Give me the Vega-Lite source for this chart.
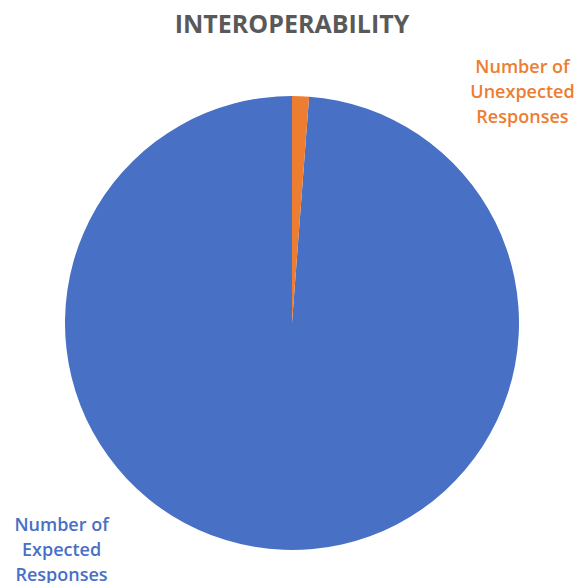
{
  "$schema": "https://vega.github.io/schema/vega-lite/v6.json",
  "autosize": "none",
  "width": 570,
  "height": 454,
  "padding": {"left": 7, "top": 96, "right": 0, "bottom": 33},
  "background": "white",
  "config": {"view": {"stroke": null}},
  "title": {
    "text": "INTEROPERABILITY",
    "font": "Open Sans",
    "fontSize": 25,
    "fontWeight": "bold",
    "color": "#595959",
    "anchor": "middle",
    "frame": "group",
    "baseline": "alphabetic",
    "offset": 1
  },
  "data": {
    "values": [
      {"category": "Number of Expected Responses", "label": "Number of\nExpected\nResponses", "value": 98.8},
      {"category": "Number of Unexpected Responses", "label": "Number of\nUnexpected\nResponses", "value": 1.2}
    ]
  },
  "layer": [
    {
      "mark": {"type": "arc", "stroke": null},
      "encoding": {
        "theta": {"field": "value", "type": "quantitative", "stack": true},
        "order": {"field": "category", "sort": "descending"},
        "color": {
          "field": "category",
          "type": "nominal",
          "scale": {"domain": ["Number of Expected Responses", "Number of Unexpected Responses"], "range": ["#4870C4", "#ED7D31"]},
          "legend": null
        }
      }
    },
    {
      "mark": {"type": "text", "radius": 325, "dy": -26, "font": "Open Sans", "fontSize": 18, "fontWeight": 600, "lineBreak": "\n", "lineHeight": 25, "align": "center", "baseline": "middle"},
      "encoding": {
        "theta": {"field": "value", "type": "quantitative", "stack": true, "scale": {"range": [0.7505, 7.0337]}},
        "order": {"field": "category", "sort": "descending"},
        "text": {"field": "label"},
        "color": {"field": "category", "type": "nominal", "legend": null}
      }
    }
  ],
  "resolve": {"scale": {"theta": "independent"}}
}
